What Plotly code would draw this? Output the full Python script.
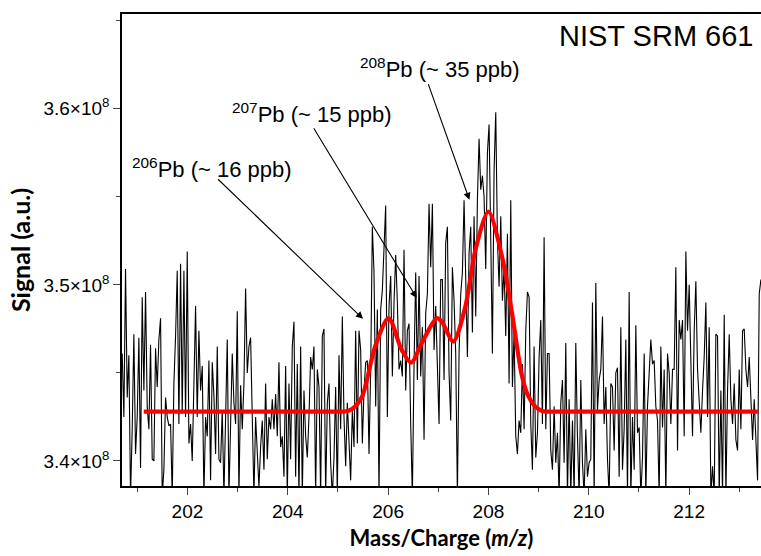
import numpy as np
import plotly.graph_objects as go

# ---- data (signal in units of 1e8 a.u.) ----
mz_start, mz_end = 200.70, 213.43
signal_e8 = [
    # 200.7 - 202.3
    3.461, 3.425, 3.509, 3.436, 3.460, 3.380, 3.418, 3.472, 3.404, 3.425,
    3.470, 3.396, 3.493, 3.440, 3.496, 3.431, 3.418, 3.466, 3.401, 3.400,
    3.464, 3.442, 3.469, 3.481, 3.380, 3.395, 3.436, 3.425, 3.420, 3.421,
    3.380, 3.444, 3.471, 3.508, 3.421, 3.512, 3.427, 3.508, 3.425, 3.519,
    3.410, 3.421, 3.400, 3.448, 3.488, 3.425, 3.474, 3.440,
    # 202.3 - 203.9
    3.454, 3.380, 3.425, 3.414, 3.457, 3.389, 3.456, 3.437, 3.404, 3.465,
    3.401, 3.399, 3.429, 3.380, 3.429, 3.469, 3.380, 3.419, 3.461, 3.433,
    3.421, 3.485, 3.380, 3.443, 3.418, 3.444, 3.498, 3.450, 3.465, 3.470,
    3.431, 3.380, 3.425, 3.399, 3.385, 3.408, 3.423, 3.395, 3.444, 3.401,
    3.425, 3.418, 3.435, 3.418, 3.438, 3.414, 3.456, 3.408,
    # 203.9 - 205.5
    3.414, 3.391, 3.454, 3.380, 3.444, 3.401, 3.465, 3.479, 3.391, 3.455,
    3.380, 3.465, 3.380, 3.440, 3.414, 3.402, 3.425, 3.459, 3.452, 3.465,
    3.380, 3.452, 3.442, 3.380, 3.471, 3.475, 3.380, 3.433, 3.444, 3.399,
    3.380, 3.402, 3.442, 3.380, 3.460, 3.418, 3.482, 3.425, 3.397, 3.433,
    3.414, 3.389, 3.429, 3.408, 3.474, 3.410, 3.474, 3.463,
    # 205.5 - 207.1
    3.410, 3.440, 3.456, 3.457, 3.404, 3.452, 3.533, 3.507, 3.431, 3.486,
    3.380, 3.486, 3.497, 3.522, 3.545, 3.425, 3.488, 3.505, 3.448, 3.490,
    3.517, 3.490, 3.452, 3.457, 3.448, 3.520, 3.440, 3.474, 3.478, 3.421,
    3.380, 3.454, 3.507, 3.446, 3.505, 3.448, 3.476, 3.412, 3.484, 3.495,
    3.546, 3.510, 3.546, 3.463, 3.488, 3.454, 3.421, 3.503,
    # 207.1 - 208.7
    3.503, 3.446, 3.524, 3.533, 3.450, 3.423, 3.510, 3.491, 3.461, 3.380,
    3.461, 3.495, 3.507, 3.548, 3.499, 3.459, 3.518, 3.533, 3.473, 3.539,
    3.482, 3.548, 3.583, 3.554, 3.562, 3.550, 3.509, 3.575, 3.591, 3.533,
    3.461, 3.565, 3.598, 3.526, 3.499, 3.539, 3.491, 3.510, 3.471, 3.529,
    3.444, 3.548, 3.442, 3.473, 3.414, 3.404, 3.423, 3.416,
    # 208.7 - 210.3
    3.455, 3.418, 3.474, 3.496, 3.493, 3.421, 3.395, 3.465, 3.402, 3.416,
    3.459, 3.480, 3.421, 3.527, 3.418, 3.461, 3.461, 3.406, 3.395, 3.431,
    3.399, 3.416, 3.380, 3.433, 3.446, 3.399, 3.467, 3.380, 3.435, 3.380,
    3.423, 3.380, 3.467, 3.414, 3.380, 3.446, 3.399, 3.380, 3.418, 3.391,
    3.399, 3.401, 3.490, 3.380, 3.501, 3.429, 3.446, 3.452,
    # 210.3 - 211.9
    3.482, 3.421, 3.442, 3.401, 3.380, 3.444, 3.442, 3.406, 3.450, 3.453,
    3.391, 3.476, 3.395, 3.418, 3.469, 3.380, 3.496, 3.380, 3.425, 3.395,
    3.477, 3.416, 3.419, 3.380, 3.402, 3.461, 3.380, 3.431, 3.454, 3.469,
    3.455, 3.457, 3.431, 3.423, 3.380, 3.465, 3.419, 3.452, 3.380, 3.461,
    3.450, 3.421, 3.452, 3.452, 3.510, 3.406, 3.480, 3.469,
    # 211.9 - 213.4
    3.480, 3.414, 3.519, 3.474, 3.500, 3.455, 3.414, 3.474, 3.502, 3.452,
    3.433, 3.416, 3.440, 3.459, 3.490, 3.425, 3.476, 3.380, 3.397, 3.380,
    3.472, 3.471, 3.380, 3.440, 3.380, 3.483, 3.380, 3.440, 3.472, 3.435,
    3.421, 3.444, 3.412, 3.406, 3.452, 3.418, 3.474, 3.475, 3.452, 3.442,
    3.459, 3.437, 3.412, 3.435, 3.408, 3.389, 3.495, 3.503,
]

# fitted curve
fit_mz = [201.13, 204.80, 205.00, 205.14, 205.28, 205.48, 205.74, 206.01,
          206.27, 206.46, 206.67, 206.97, 207.07, 207.30, 207.54, 207.74,
          208.00, 208.27, 208.47, 208.67, 208.80, 208.93, 209.07, 209.20,
          209.40, 213.37]
fit_e8 = [3.4280, 3.4280, 3.4280, 3.4281, 3.4295, 3.4365, 3.4649, 3.4811,
          3.4631, 3.4559, 3.4669, 3.4811, 3.4791, 3.4678, 3.4877, 3.5199,
          3.5416, 3.5161, 3.4839, 3.4479, 3.4365, 3.4309, 3.4284, 3.4280,
          3.4280, 3.4280]

x_ticks = [202, 204, 206, 208, 210, 212]
x_minor = [201, 203, 205, 207, 209, 211, 213]
y_ticks_e8 = [3.4, 3.5, 3.6]
y_tick_text = ["3.4×10<sup>8</sup>", "3.5×10<sup>8</sup>", "3.6×10<sup>8</sup>"]
y_minor_e8 = [3.45, 3.55, 3.65]

labels = ["<sup>206</sup>Pb (~ 16 ppb)", "<sup>207</sup>Pb (~ 15 ppb)",
          "<sup>208</sup>Pb (~ 35 ppb)"]
label_pos = [(200.85, 3.5665), (202.84, 3.5977), (205.40, 3.6233)]
arrow_tail = [(202.58, 3.5608), (204.50, 3.5898), (206.79, 3.6148)]
arrow_tip = [(205.50, 3.4807), (206.57, 3.4926), (207.62, 3.5483)]

E8 = 1e8
mz = np.linspace(mz_start, mz_end, len(signal_e8))

fig = go.Figure()
fig.add_trace(go.Scatter(x=mz, y=np.array(signal_e8) * E8, mode="lines",
                         line=dict(color="black", width=1.1), showlegend=False))
fig.add_trace(go.Scatter(x=fit_mz, y=np.array(fit_e8) * E8, mode="lines",
                         line=dict(color="#ff0000", width=4.2, shape="spline", smoothing=0.8),
                         showlegend=False))

TXT = dict(family="Liberation Sans, Arial, sans-serif", color="black")
for (tx, ty), lab in zip(label_pos, labels):
    fig.add_annotation(x=tx, y=ty * E8, text=lab, showarrow=False, xanchor="left",
                       yanchor="middle", font=dict(size=22, **TXT))
for (ax, ay), (hx, hy) in zip(arrow_tail, arrow_tip):
    fig.add_annotation(x=hx, y=hy * E8, ax=ax, ay=ay * E8, axref="x", ayref="y",
                       text="", showarrow=True, arrowhead=2, arrowsize=1.3,
                       arrowwidth=1.1, arrowcolor="black")
fig.add_annotation(x=213.31, y=3.6415 * E8, text="NIST SRM 661", showarrow=False,
                   xanchor="right", yanchor="middle", font=dict(size=29, **TXT))

TITLE_FONT = "Lato, Open Sans, sans-serif"
fig.update_layout(
    width=761, height=556,
    margin=dict(l=122, r=0, t=14, b=70),
    paper_bgcolor="white", plot_bgcolor="white",
    xaxis=dict(range=[200.696, 213.432], tickvals=x_ticks, ticks="outside",
               ticklen=7, tickwidth=1.3, showgrid=False, zeroline=False,
               showline=True, linecolor="black", linewidth=1.5, mirror=True,
               tickfont=dict(size=19, **TXT),
               minor=dict(tickvals=x_minor, ticks="outside", ticklen=4,
                          tickwidth=1.3, showgrid=False),
               title=dict(text="Mass/Charge (<i>m/z</i>)", standoff=10,
                          font=dict(size=22, family=TITLE_FONT,
                                    color="black", weight="bold"))),
    yaxis=dict(range=[3.3858 * E8, 3.6538 * E8],
               tickvals=[v * E8 for v in y_ticks_e8], ticktext=y_tick_text,
               ticks="outside", ticklen=7, tickwidth=1.3, showgrid=False,
               zeroline=False, showline=True, linecolor="black", linewidth=1.5,
               tickfont=dict(size=19, **TXT),
               minor=dict(tickvals=[v * E8 for v in y_minor_e8], ticks="outside",
                          ticklen=4, tickwidth=1.3, showgrid=False),
               title=dict(text="Signal (a.u.)", standoff=6,
                          font=dict(size=25, family=TITLE_FONT,
                                    color="black", weight="bold"))),
)

fig.write_html("out.html")
